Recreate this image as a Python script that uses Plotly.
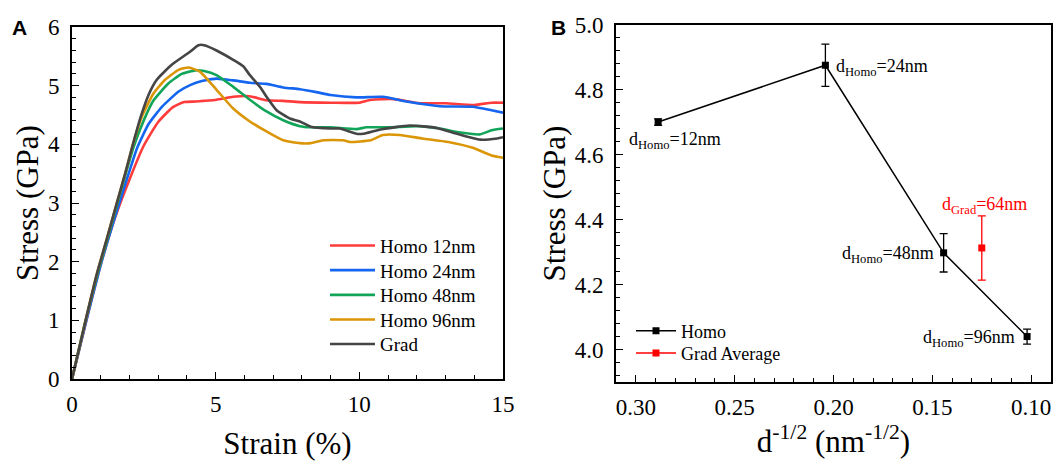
import plotly.graph_objects as go

# ---------------- Panel A data: stress-strain curves ----------------
strain_h12 = [0, 0.5, 1.0, 1.5, 2.0, 2.5, 3.0, 3.5, 3.9, 4.3, 4.57, 5.03, 5.61, 6.19, 6.77, 7.35, 7.93, 9.0, 9.99, 10.4, 11.2, 12.1, 13.0, 14.0, 14.6, 15.0]
stress_h12 = [0, 1.0, 1.95, 2.75, 3.4, 3.98, 4.38, 4.63, 4.72, 4.73, 4.74, 4.76, 4.81, 4.82, 4.75, 4.74, 4.72, 4.71, 4.71, 4.76, 4.77, 4.70, 4.70, 4.67, 4.71, 4.71]

strain_h24 = [0, 0.5, 1.0, 1.3, 1.68, 1.97, 2.26, 2.67, 3.13, 3.71, 4.11, 4.52, 5.03, 5.61, 6.19, 6.77, 7.35, 7.93, 8.5, 9.0, 9.9, 10.82, 11.64, 12.8, 13.95, 14.6, 15.0]
stress_h24 = [0, 1.0, 1.95, 2.45, 3.05, 3.5, 3.93, 4.35, 4.64, 4.9, 5.01, 5.08, 5.12, 5.09, 5.05, 5.03, 4.97, 4.94, 4.89, 4.84, 4.80, 4.81, 4.73, 4.65, 4.64, 4.58, 4.54]

strain_h48 = [0, 0.45, 0.89, 1.24, 1.58, 1.87, 2.14, 2.49, 2.84, 3.36, 3.82, 4.29, 4.6, 5.03, 5.61, 6.19, 6.77, 7.35, 7.93, 8.31, 9.0, 9.9, 10.25, 11.06, 12.0, 12.8, 13.4, 14.2, 14.6, 15.0]
stress_h48 = [0, 0.95, 1.8, 2.4, 3.0, 3.5, 3.95, 4.4, 4.75, 5.04, 5.2, 5.26, 5.25, 5.18, 4.98, 4.76, 4.56, 4.41, 4.31, 4.29, 4.29, 4.26, 4.29, 4.29, 4.31, 4.27, 4.21, 4.17, 4.24, 4.27]

strain_h96 = [0, 0.45, 0.87, 1.22, 1.56, 1.85, 2.12, 2.43, 2.84, 3.24, 3.71, 4.06, 4.45, 5.03, 5.61, 6.19, 6.77, 7.35, 7.93, 8.31, 8.74, 9.43, 9.67, 10.4, 10.82, 11.4, 12.2, 13.1, 13.95, 14.6, 15.0]
stress_h96 = [0, 0.95, 1.8, 2.4, 3.0, 3.5, 4.0, 4.47, 4.87, 5.1, 5.27, 5.31, 5.24, 4.93, 4.61, 4.39, 4.22, 4.07, 4.02, 4.02, 4.07, 4.07, 4.04, 4.07, 4.16, 4.16, 4.10, 4.04, 3.94, 3.81, 3.77]

strain_grad = [0, 0.45, 0.87, 1.22, 1.56, 1.85, 2.12, 2.38, 2.67, 2.95, 3.48, 4.06, 4.4, 4.6, 5.03, 5.61, 5.96, 6.19, 6.54, 6.77, 7.12, 7.58, 7.93, 8.31, 9.0, 9.32, 9.9, 10.13, 10.7, 11.75, 12.7, 13.4, 14.2, 14.8, 15.0]
stress_grad = [0, 0.95, 1.8, 2.4, 3.0, 3.5, 4.0, 4.45, 4.85, 5.1, 5.36, 5.56, 5.69, 5.69, 5.6, 5.44, 5.33, 5.18, 4.98, 4.81, 4.58, 4.44, 4.39, 4.30, 4.27, 4.27, 4.18, 4.18, 4.25, 4.32, 4.28, 4.18, 4.08, 4.10, 4.12]

names_a = ["Homo 12nm", "Homo 24nm", "Homo 48nm", "Homo 96nm", "Grad"]
colors_a = ["#ff3b3b", "#1466f0", "#12a55a", "#db9608", "#454545"]

# ---------------- Panel B data: stress vs d^-1/2 ----------------
homo_d = ["12nm", "24nm", "48nm", "96nm"]
homo_x = [0.2887, 0.2041, 0.1443, 0.1021]
homo_y = [4.701, 4.876, 4.298, 4.040]
homo_err = [0.010, 0.065, 0.059, 0.023]

grad_d = ["64nm"]
grad_x = [0.125]
grad_y = [4.313]
grad_err = [0.099]

W, H = 1062, 462
SERIF = "Liberation Serif"


def px_x(p):
    return p / W


def px_y(p):
    return 1 - p / H


fig = go.Figure()

# legend rows (pixel centres) for panel A entries
legend_rows_a = [245.7, 270.3, 295.0, 319.6, 344.2]
pairs = [(strain_h12, stress_h12), (strain_h24, stress_h24), (strain_h48, stress_h48),
         (strain_h96, stress_h96), (strain_grad, stress_grad)]
legend_layouts = {}
for i, ((sx, sy), nm, col) in enumerate(zip(pairs, names_a, colors_a)):
    lg = "legend" if i == 0 else "legend%d" % (i + 1)
    fig.add_trace(go.Scatter(x=sx, y=sy, mode="lines", name=nm,
                             line=dict(color=col, width=2.6, shape="spline", smoothing=0.5),
                             xaxis="x", yaxis="y", legend=lg))
    legend_layouts[lg] = dict(x=px_x(325), y=px_y(legend_rows_a[i]), xanchor="left", yanchor="middle",
                              bgcolor="rgba(0,0,0,0)", font=dict(family=SERIF, size=19, color="black"),
                              itemwidth=45)

legend_rows_b = [331.0, 353.3]
fig.add_trace(go.Scatter(x=homo_x, y=homo_y, mode="lines+markers", name="Homo",
                         line=dict(color="black", width=1.5),
                         marker=dict(symbol="square", size=7, color="black"),
                         error_y=dict(type="data", array=homo_err, color="black", thickness=1.3, width=4),
                         xaxis="x2", yaxis="y2", legend="legend6"))
fig.add_trace(go.Scatter(x=grad_x, y=grad_y, mode="lines+markers", name="Grad Average",
                         line=dict(color="red", width=1.5),
                         marker=dict(symbol="square", size=7, color="red"),
                         error_y=dict(type="data", array=grad_err, color="red", thickness=1.3, width=4),
                         xaxis="x2", yaxis="y2", legend="legend7"))
for j, lg in enumerate(["legend6", "legend7"]):
    legend_layouts[lg] = dict(x=px_x(631), y=px_y(legend_rows_b[j]), xanchor="left", yanchor="middle",
                              bgcolor="rgba(0,0,0,0)", font=dict(family=SERIF, size=18, color="black"),
                              itemwidth=40)

axis_common = dict(showgrid=False, zeroline=False, showline=True, linecolor="black", linewidth=1.6,
                   mirror=True, ticks="inside", ticklen=7, tickwidth=1.3, tickcolor="black",
                   automargin=False,
                   tickfont=dict(family=SERIF, size=23, color="black"))

fig.update_layout(
    width=W, height=H, margin=dict(l=0, r=0, t=0, b=0),
    paper_bgcolor="white", plot_bgcolor="white",
    showlegend=True,
    font=dict(family=SERIF, color="black"),
    xaxis=dict(domain=[px_x(72), px_x(503)], range=[0, 15], dtick=5, anchor="y",
               minor=dict(dtick=1, ticks="inside", ticklen=4, tickcolor="black"),
               ticklabelstandoff=4,
               title=dict(text="Strain (%)", font=dict(family=SERIF, size=31), standoff=16),
               **axis_common),
    yaxis=dict(domain=[px_y(379), px_y(27)], range=[0, 6], dtick=1, anchor="x",
               minor=dict(dtick=0.2, ticks="inside", ticklen=4, tickcolor="black"),
               ticklabelstandoff=6,
               title=dict(text="Stress (GPa)", font=dict(family=SERIF, size=31), standoff=0),
               **axis_common),
    xaxis2=dict(domain=[px_x(616), px_x(1051)], range=[0.31, 0.09], dtick=0.05, tickformat=".2f",
                anchor="y2",
                minor=dict(dtick=0.01, ticks="inside", ticklen=4, tickcolor="black"),
                ticklabelstandoff=4,
                title=dict(text="d<sup>-1/2</sup> (nm<sup>-1/2</sup>)", font=dict(family=SERIF, size=31), standoff=10),
                **axis_common),
    yaxis2=dict(domain=[px_y(382), px_y(25)], range=[3.9, 5.0], dtick=0.2, tickformat=".1f",
                anchor="x2",
                minor=dict(dtick=0.04, ticks="inside", ticklen=4, tickcolor="black"),
                ticklabelstandoff=6,
                title=dict(text="Stress (GPa)", font=dict(family=SERIF, size=31), standoff=0),
                **axis_common),
    **legend_layouts,
)

# point labels in panel B
offsets = [(17, -18, "center"), (9, -2, "left"), (-8, -2, "right"), (-10, -2, "right")]
for d, x, y, (xs, ys, xa) in zip(homo_d, homo_x, homo_y, offsets):
    fig.add_annotation(x=x, y=y, xref="x2", yref="y2", text="d<sub>Homo</sub>=" + d,
                       showarrow=False, xanchor=xa, yanchor="middle", xshift=xs, yshift=ys,
                       font=dict(family=SERIF, size=18, color="black"))
for d, x, y in zip(grad_d, grad_x, grad_y):
    fig.add_annotation(x=x, y=y, xref="x2", yref="y2", text="d<sub>Grad</sub>=" + d,
                       showarrow=False, xanchor="center", yanchor="middle", xshift=3, yshift=42,
                       font=dict(family=SERIF, size=18, color="red"))

# panel letters
fig.add_annotation(x=px_x(19), y=px_y(28), xref="paper", yref="paper", text="<b>A</b>", showarrow=False,
                   xanchor="center", yanchor="middle", font=dict(family="Liberation Sans", size=21, color="black"))
fig.add_annotation(x=px_x(558), y=px_y(28), xref="paper", yref="paper", text="<b>B</b>", showarrow=False,
                   xanchor="center", yanchor="middle", font=dict(family="Liberation Sans", size=21, color="black"))

# the page's default 8px body margin would shift the chart; remove it
fig.write_html("out.html", config={"displayModeBar": False},
               post_script="document.body.style.margin='0px';")
